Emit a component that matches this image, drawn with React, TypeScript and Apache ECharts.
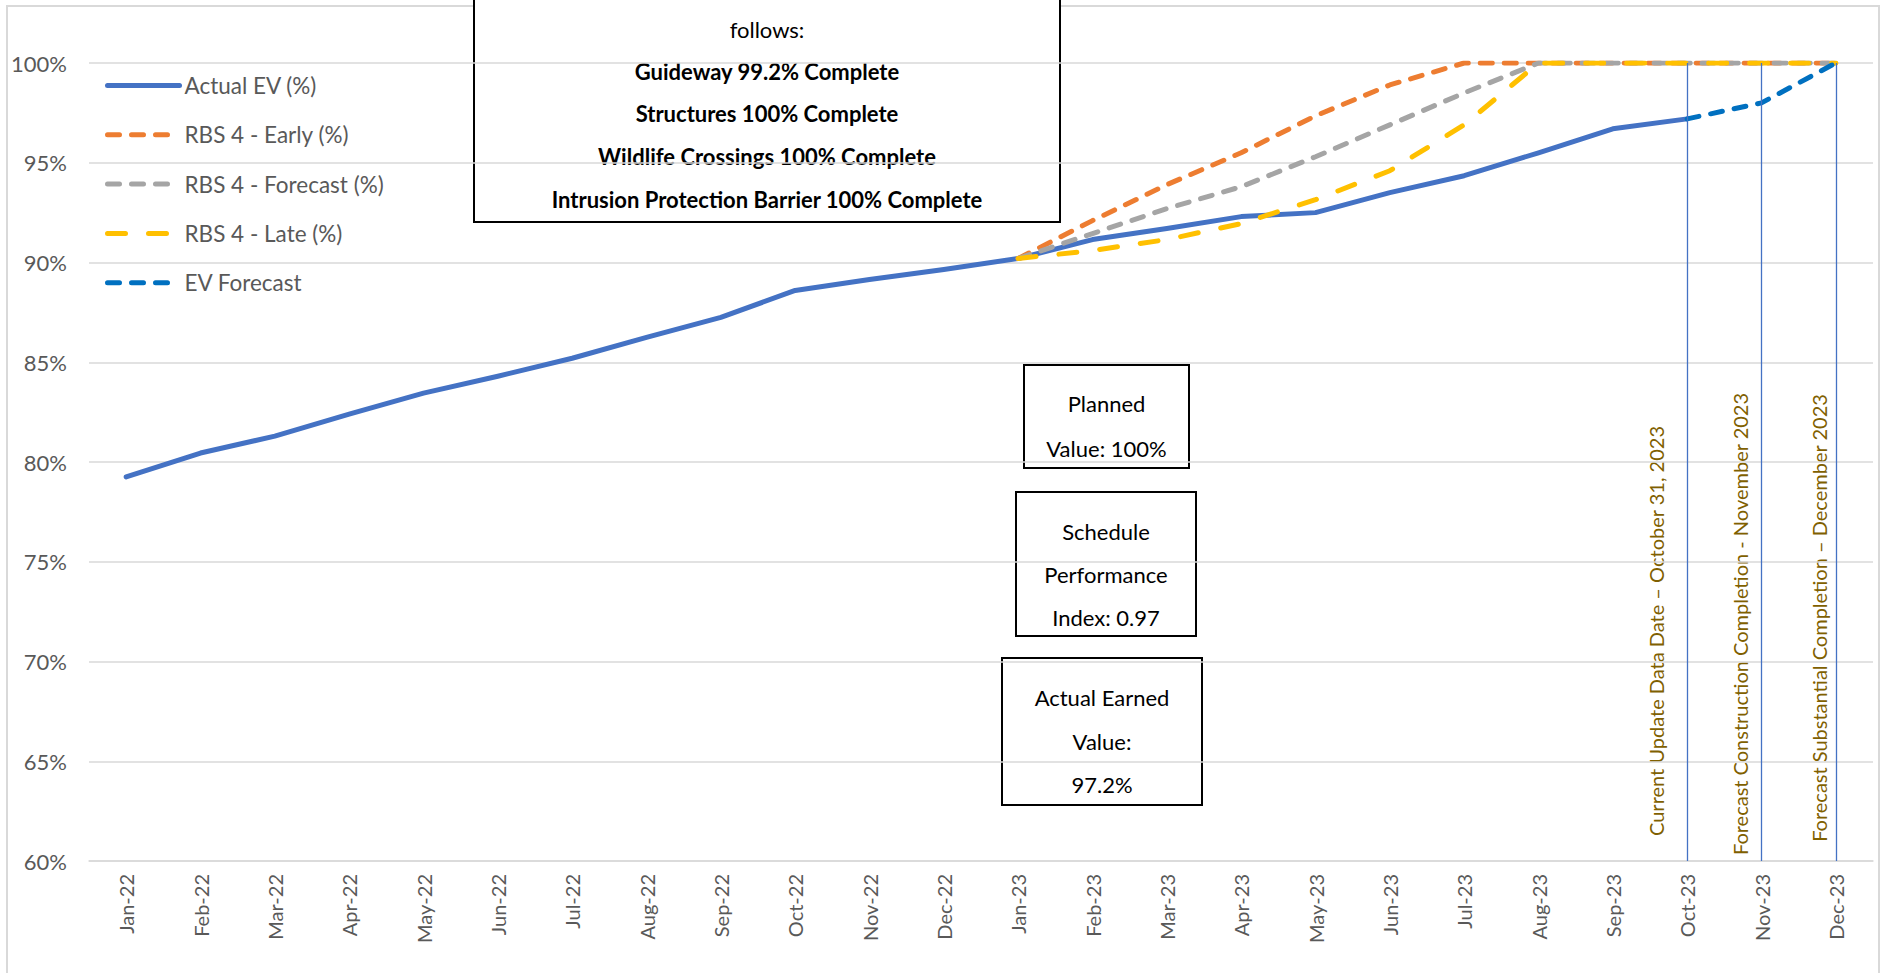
import React, { useEffect, useRef } from "react";
import * as echarts from "echarts";

const categories = [
  "Jan-22", "Feb-22", "Mar-22", "Apr-22", "May-22", "Jun-22", "Jul-22", "Aug-22",
  "Sep-22", "Oct-22", "Nov-22", "Dec-22", "Jan-23", "Feb-23", "Mar-23", "Apr-23",
  "May-23", "Jun-23", "Jul-23", "Aug-23", "Sep-23", "Oct-23", "Nov-23", "Dec-23",
];

const actualEV = [
  79.25, 80.45, 81.3, 82.4, 83.45, 84.3, 85.2, 86.25, 87.25, 88.6, 89.15, 89.65,
  90.2, 91.15, 91.7, 92.3, 92.5, 93.5, 94.35, 95.5, 96.7, 97.2, null, null,
];
const rbsEarly = [
  null, null, null, null, null, null, null, null, null, null, null, null,
  90.2, 92.1, 93.9, 95.5, 97.35, 98.9, 100, 100, 100, 100, 100, 100,
];
const rbsForecast = [
  null, null, null, null, null, null, null, null, null, null, null, null,
  90.2, 91.45, 92.7, 93.8, 95.3, 96.9, 98.5, 100, 100, 100, 100, 100,
];
const rbsLate = [
  null, null, null, null, null, null, null, null, null, null, null, null,
  90.2, 90.6, 91.15, 91.95, 93.15, 94.6, 96.9, 100, 100, 100, 100, 100,
];
const evForecast = [
  null, null, null, null, null, null, null, null, null, null, null, null,
  null, null, null, null, null, null, null, null, null, 97.2, 98.0, 100,
];

const seriesNames = [
  "Actual EV (%)",
  "RBS 4 - Early (%)",
  "RBS 4 - Forecast (%)",
  "RBS 4 - Late (%)",
  "EV Forecast",
];

const markerCategories = ["Oct-23", "Nov-23", "Dec-23"];
const markerLabels = [
  "Current Update Data Date – October 31, 2023",
  "Forecast Construction Completion - November 2023",
  "Forecast Substantial Completion – December 2023",
];

const yTicks = { min: 60, max: 100, interval: 5 };

const topBoxLines = [
  { text: "follows:", bold: false },
  { text: "Guideway 99.2% Complete", bold: true },
  { text: "Structures 100% Complete", bold: true },
  { text: "Wildlife Crossings 100% Complete", bold: true },
  { text: "Intrusion Protection Barrier 100% Complete", bold: true },
];
const planned = ["Planned", "Value: 100%"];
const spi = ["Schedule", "Performance", "Index: 0.97"];
const earned = ["Actual Earned", "Value:", "97.2%"];

const FONT = "Lato, 'Noto Sans', sans-serif";

function textBox(
  x: number, y: number, w: number, h: number,
  lines: { text: string; bold: boolean }[],
  ys: number[], fontSize: number
) {
  const children: any[] = [
    {
      type: "rect",
      shape: { x, y, width: w, height: h },
      style: { fill: "#ffffff", stroke: "#000000", lineWidth: 2 },
    },
  ];
  lines.forEach((l, i) => {
    children.push({
      type: "text",
      x: x + w / 2,
      y: ys[i],
      style: {
        text: l.text,
        fill: "#000000",
        font: `${l.bold ? "bold " : ""}${fontSize}px ${FONT}`,
        textAlign: "center",
        textVerticalAlign: "middle",
      },
    });
  });
  return { type: "group", children };
}

export default function App() {
  const ref = useRef<HTMLDivElement>(null);

  useEffect(() => {
    if (!ref.current) return;
    const chart = echarts.init(ref.current, undefined, { renderer: "svg" });

    const dashed = (color: string, dash: number[]) => ({
      color,
      width: 5,
      type: dash,
      cap: "round",
    });

    const option: any = {
      animation: false,
      backgroundColor: "#ffffff",
      textStyle: { fontFamily: FONT },
      grid: { left: 89, right: 8, top: 63, bottom: 112, containLabel: false },
      legend: {
        orient: "vertical",
        left: 105,
        top: 74,
        padding: 0,
        itemWidth: 72,
        itemHeight: 22,
        itemGap: 26.3,
        data: seriesNames,
        itemStyle: { opacity: 0 },
        lineStyle: { width: 5, cap: "round" },
        textStyle: { color: "#595959", fontSize: 22.5, fontFamily: FONT },
      },
      xAxis: {
        type: "category",
        data: categories,
        boundaryGap: true,
        axisLine: { lineStyle: { color: "#D9D9D9", width: 1.5 } },
        axisTick: { show: false },
        axisLabel: {
          rotate: 90,
          color: "#595959",
          fontSize: 20,
          fontFamily: FONT,
          margin: 13,
          interval: 0,
        },
      },
      yAxis: {
        type: "value",
        min: yTicks.min,
        max: yTicks.max,
        interval: yTicks.interval,
        axisLine: { show: false },
        axisTick: { show: false },
        splitLine: { lineStyle: { color: "#D9D9D9", width: 1.5 } },
        axisLabel: {
          formatter: "{value}%",
          color: "#595959",
          fontSize: 22,
          fontFamily: FONT,
          margin: 22,
        },
      },
      series: [
        {
          name: seriesNames[0],
          type: "line",
          data: actualEV,
          symbol: "none",
          lineStyle: { color: "#4472C4", width: 5, cap: "round", join: "round" },
          itemStyle: { color: "#4472C4" },
          markLine: {
            silent: true,
            symbol: "none",
            label: { show: false },
            lineStyle: { color: "#4472C4", width: 1.3, type: "solid" },
            data: markerCategories.map((c) => [
              { xAxis: c, yAxis: yTicks.max },
              { xAxis: c, yAxis: yTicks.min },
            ]),
          },
        },
        {
          name: seriesNames[1],
          type: "line",
          data: rbsEarly,
          symbol: "none",
          lineStyle: dashed("#ED7D31", [12, 12]),
          itemStyle: { color: "#ED7D31" },
        },
        {
          name: seriesNames[2],
          type: "line",
          data: rbsForecast,
          symbol: "none",
          lineStyle: dashed("#A5A5A5", [12, 12]),
          itemStyle: { color: "#A5A5A5" },
        },
        {
          name: seriesNames[3],
          type: "line",
          data: rbsLate,
          symbol: "none",
          lineStyle: dashed("#FFC000", [18, 23]),
          itemStyle: { color: "#FFC000" },
        },
        {
          name: seriesNames[4],
          type: "line",
          data: evForecast,
          symbol: "none",
          lineStyle: dashed("#0070C0", [12, 12]),
          itemStyle: { color: "#0070C0" },
        },
      ],
      graphic: [
        {
          type: "rect",
          silent: true,
          shape: { x: 7, y: 6, width: 1872, height: 990 },
          style: { fill: "none", stroke: "#D9D9D9", lineWidth: 2 },
          z: -10,
        },
        textBox(
          474, -30, 586, 252,
          topBoxLines,
          [29, 71, 113, 156, 199],
          22
        ),
        textBox(
          1024, 365, 165, 103,
          planned.map((t) => ({ text: t, bold: false })),
          [403, 448],
          22
        ),
        textBox(
          1016, 492, 180, 144,
          spi.map((t) => ({ text: t, bold: false })),
          [531, 574, 617],
          22
        ),
        textBox(
          1002, 658, 200, 147,
          earned.map((t) => ({ text: t, bold: false })),
          [697, 741, 784],
          22
        ),
        ...markerLabels.map((t, i) => ({
          type: "text",
          x: [1656, 1740, 1819][i],
          y: [631, 624, 618][i],
          rotation: Math.PI / 2,
          style: {
            text: t,
            fill: "#7F6000",
            font: `20px ${FONT}`,
            textAlign: "center",
            textVerticalAlign: "middle",
          },
        })),
      ],
    };

    chart.setOption(option);
    return () => chart.dispose();
  }, []);

  return (
    <div
      ref={ref}
      style={{ position: "fixed", left: 0, top: 0, width: 1881, height: 973, background: "#fff" }}
    />
  );
}
